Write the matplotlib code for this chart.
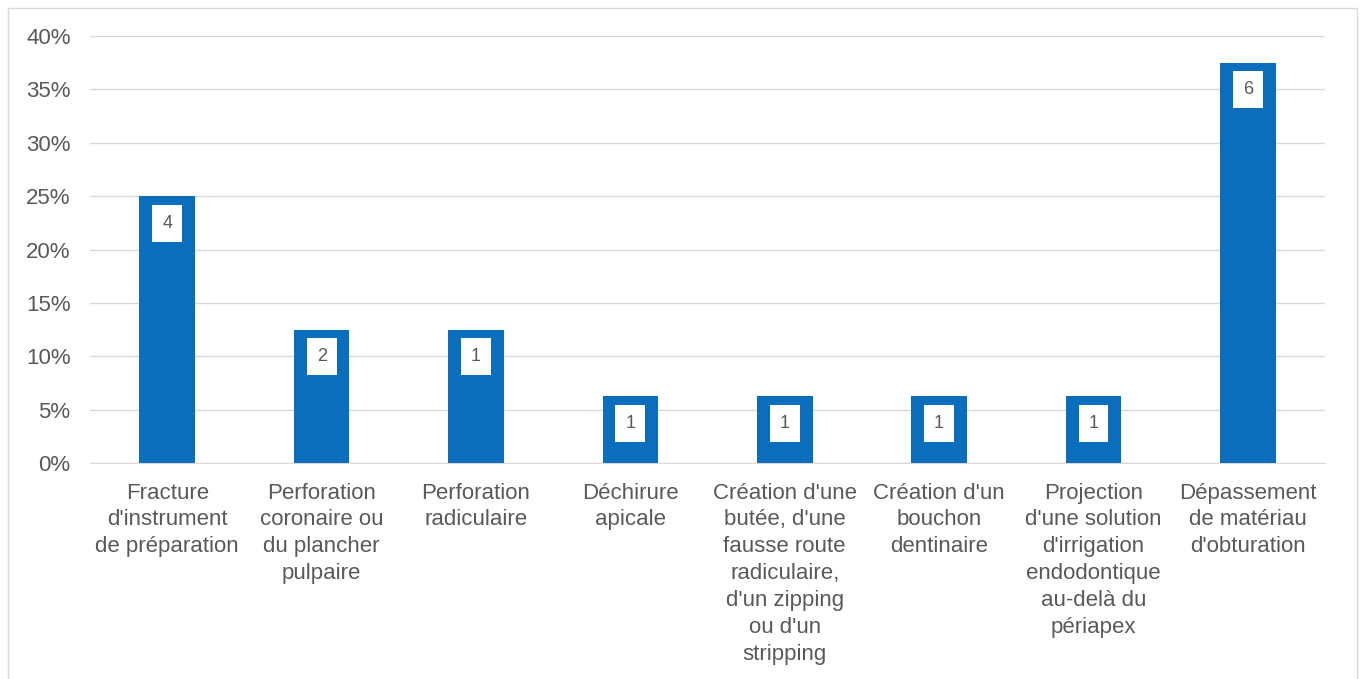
import matplotlib.pyplot as plt
from matplotlib.patches import Rectangle
from matplotlib.ticker import FuncFormatter

categories = [
    "Fracture\nd'instrument\nde préparation",
    "Perforation\ncoronaire ou\ndu plancher\npulpaire",
    "Perforation\nradiculaire",
    "Déchirure\napicale",
    "Création d'une\nbutée, d'une\nfausse route\nradiculaire,\nd'un zipping\nou d'un\nstripping",
    "Création d'un\nbouchon\ndentinaire",
    "Projection\nd'une solution\nd'irrigation\nendodontique\nau-delà du\npériapex",
    "Dépassement\nde matériau\nd'obturation",
]
percentages = [25.0, 12.5, 12.5, 6.25, 6.25, 6.25, 6.25, 37.5]
counts = [4, 2, 1, 1, 1, 1, 1, 6]

plt.rcParams['font.family'] = ['Liberation Sans', 'DejaVu Sans']
text_color = '#595959'
bar_color = '#0a6ebd'

fig = plt.figure(figsize=(13.65, 6.79), dpi=100)
ax = fig.add_axes([0.066, 0.318, 0.9047, 0.629])

x = range(len(categories))
bars = ax.bar(x, percentages, width=0.36, color=bar_color, zorder=3)

for b, c in zip(bars, counts):
    ax.annotate(str(c), (b.get_x() + b.get_width() / 2, b.get_height()),
                xytext=(0, -27), textcoords='offset pixels',
                ha='center', va='center', fontsize=13, color=text_color,
                bbox=dict(boxstyle='square,pad=0.55', fc='white', ec='none'),
                zorder=4)

ax.set_ylim(0, 40)
ax.set_xlim(-0.5, len(categories) - 0.5)
ax.set_yticks(range(0, 41, 5))
ax.yaxis.set_major_formatter(FuncFormatter(lambda v, p: f"{int(v)}%"))
ax.grid(axis='y', color='#d9d9d9', linewidth=1, zorder=0)
ax.set_xticks(list(x))
ax.set_xticklabels(categories, fontsize=16, color=text_color, linespacing=1.37)
ax.tick_params(axis='y', labelsize=16, labelcolor=text_color, length=0, pad=14)
ax.tick_params(axis='x', length=0, pad=14)
for s in ['top', 'right', 'left']:
    ax.spines[s].set_visible(False)
ax.spines['bottom'].set_color('#d9d9d9')

fig.patches.append(Rectangle((8 / 1365, -0.01), 1349 / 1365, 1 - 8 / 679 + 0.01,
                             transform=fig.transFigure, fill=False,
                             edgecolor='#d9d9d9', linewidth=1))

fig.savefig('out.png', dpi=100)
